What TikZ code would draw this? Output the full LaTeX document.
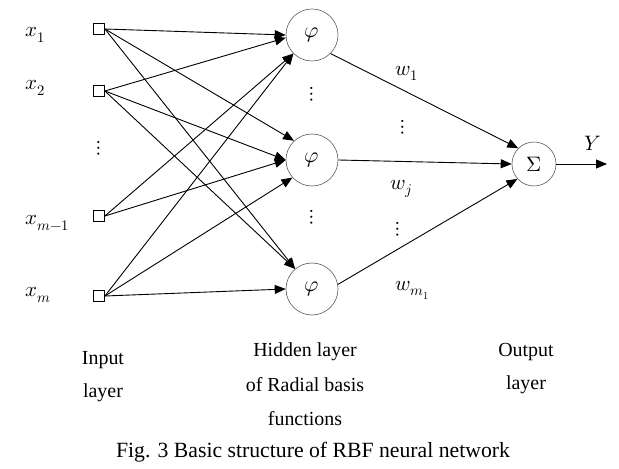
\documentclass[tikz,border=0pt]{standalone}
\usepackage{unicode-math}
\setmainfont{Liberation Serif}
\setmathfont{Latin Modern Math}
\usetikzlibrary{arrows.meta}
\begin{document}
\begin{tikzpicture}[x=1bp,y=-1bp,
 inp/.style={draw, minimum size=11bp, inner sep=0pt, line width=0.8bp},
 hid/.style={draw=black!65, circle, minimum size=52bp, inner sep=0pt, line width=0.6bp, font=\fontsize{22}{24}\selectfont},
 sumn/.style={draw=black!65, circle, minimum size=44bp, inner sep=0pt, line width=0.6bp, font=\fontsize{21}{23}\selectfont},
 conn/.style={line width=0.9bp, -{Triangle[length=11bp,width=9bp]}},
 mlab/.style={font=\fontsize{21}{23}\selectfont, inner sep=0pt},
 dlab/.style={font=\fontsize{21}{23}\selectfont, inner sep=0pt},
 tlab/.style={font=\fontsize{20}{24}\selectfont, inner sep=0pt, anchor=base},
 caplab/.style={font=\fontsize{21.8}{26}\selectfont, inner sep=0pt, anchor=base}]
\useasboundingbox (0,0) rectangle (619,469);

% input nodes
\node[inp] (i1) at (99,29) {};
\node[inp] (i2) at (99,91) {};
\node[inp] (i3) at (99,216) {};
\node[inp] (i4) at (99,296) {};
\node[mlab, anchor=base west] (l1) at (25,37) {$x_1$};
\node[mlab, anchor=base west] (l2) at (25,90) {$x_2$};
\node[mlab, anchor=base west] (l3) at (25,225) {$x_{m-1}$};
\node[mlab, anchor=base west] (l4) at (25,297) {$x_m$};
\node[dlab] (d0) at (99,148) {$\vdots$};

% hidden nodes
\node[hid] (h1) at (312,35) {$\varphi$};
\node[hid] (h2) at (312,160) {$\varphi$};
\node[hid] (h3) at (312,289) {$\varphi$};
\node[dlab] (d1) at (312,94) {$\vdots$};
\node[dlab] (d2) at (312,217) {$\vdots$};

% output
\node[sumn] (s) at (534,164) {$\Sigma$};
\coordinate (out) at (607,164);
\node[mlab] (Y) at (593,143) {$Y$};

% weights
\node[mlab] (w1) at (407,73) {$w_1$};
\node[dlab] (wd1) at (403,127) {$\vdots$};
\node[mlab] (wj) at (401,189) {$w_j$};
\node[dlab] (wd2) at (398,229) {$\vdots$};
\node[mlab] (wm) at (413,290) {$w_{m_1}$};

% input -> hidden
\draw[conn] (i1.east) -- (h1.180);
\draw[conn] (i1.east) -- (h2.133);
\draw[conn] (i1.east) -- (h3.130);
\draw[conn] (i2.east) -- (h1.186);
\draw[conn] (i2.east) -- (h2.180);
\draw[conn] (i2.east) -- (h3.130);
\draw[conn] (i3.east) -- (h1.225);
\draw[conn] (i3.east) -- (h2.180);
\draw[conn] (i4.east) -- (h1.225);
\draw[conn] (i4.east) -- (h2.222);
\draw[conn] (i4.east) -- (h3.180);

% hidden -> sum
\draw[conn] (h1.-45) -- (s.135);
\draw[conn] (h2.east) -- (s.west);
\draw[conn] (h3.10) -- (s.222);
\draw[conn] (s.east) -- (out);

% layer labels
\node[tlab] (t1a) at (103,364) {Input};
\node[tlab] (t1b) at (103,397) {layer};
\node[tlab] (t2a) at (305,356) {Hidden layer};
\node[tlab] (t2b) at (305,391) {of Radial basis};
\node[tlab] (t2c) at (305,425) {functions};
\node[tlab] (t3a) at (526,356) {Output};
\node[tlab] (t3b) at (526,389) {layer};
\node[caplab] (cap) at (313,457) {Fig. 3 Basic structure of RBF neural network};
\end{tikzpicture}
\end{document}
